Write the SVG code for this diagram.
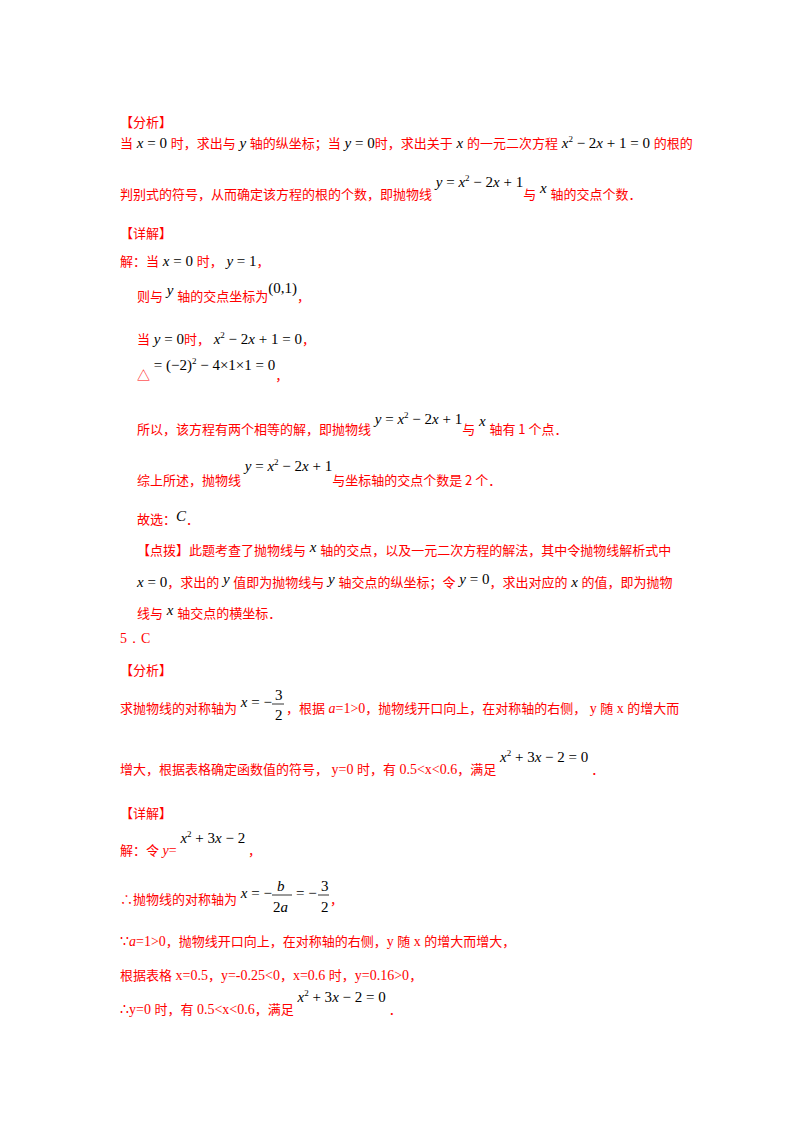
<svg xmlns="http://www.w3.org/2000/svg" width="800" height="1132" viewBox="0 0 800 1132">
<style>
text{font-family:"Noto Sans CJK SC","Liberation Serif",serif;font-size:13px;fill:#f00}
.m{font-family:"Liberation Serif",serif;font-size:15px;fill:#000;font-style:italic}
.n{font-family:"Liberation Serif",serif;font-size:15px;fill:#000;font-style:normal}
.s{font-size:9px}
.r{font-family:"Liberation Serif",serif;font-size:14px;fill:#f00}
</style>
<rect width="800" height="1132" fill="#fff"/>
<text x="120" y="127">【分析】</text>
<text x="120" y="148">当<tspan class="m"> x</tspan><tspan class="n"> = 0 </tspan>时，求出与<tspan class="m"> y </tspan>轴的纵坐标；当<tspan class="m"> y</tspan><tspan class="n"> = 0</tspan>时，求出关于<tspan class="m"> x </tspan>的一元二次方程<tspan class="m"> x</tspan><tspan class="n s" dy="-6">2</tspan><tspan class="n" dy="6"> − 2</tspan><tspan class="m">x</tspan><tspan class="n"> + 1 = 0 </tspan>的根的</text>
<text x="120" y="199">判别式的符号，从而确定该方程的根的个数，即抛物线<tspan class="m" dy="-12"> y</tspan><tspan class="n"> = </tspan><tspan class="m">x</tspan><tspan class="n s" dy="-6">2</tspan><tspan class="n" dy="6"> − 2</tspan><tspan class="m">x</tspan><tspan class="n"> + 1</tspan><tspan dy="12">与</tspan><tspan class="m" dy="-6"> x </tspan><tspan dy="6">轴的交点个数．</tspan></text>
<text x="120" y="238">【详解】</text>
<text x="120" y="266">解：当<tspan class="m"> x</tspan><tspan class="n"> = 0 </tspan>时，<tspan class="m"> y</tspan><tspan class="n"> = 1</tspan>，</text>
<text x="137" y="301">则与<tspan class="m" dy="-6"> y </tspan><tspan dy="6">轴的交点坐标为</tspan><tspan class="n" dy="-8">(0,1)</tspan><tspan dy="8">，</tspan></text>
<text x="137" y="344">当<tspan class="m"> y</tspan><tspan class="n"> = 0</tspan>时，<tspan class="m"> x</tspan><tspan class="n s" dy="-6">2</tspan><tspan class="n" dy="6"> − 2</tspan><tspan class="m">x</tspan><tspan class="n"> + 1 = 0</tspan>，</text>
<text x="137" y="380">△<tspan class="n" dy="-10"> = (−2)</tspan><tspan class="n s" dy="-6">2</tspan><tspan class="n" dy="6"> − 4×1×1 = 0</tspan><tspan dy="10">，</tspan></text>
<text x="137" y="434">所以，该方程有两个相等的解，即抛物线<tspan class="m" dy="-10"> y</tspan><tspan class="n"> = </tspan><tspan class="m">x</tspan><tspan class="n s" dy="-6">2</tspan><tspan class="n" dy="6"> − 2</tspan><tspan class="m">x</tspan><tspan class="n"> + 1</tspan><tspan dy="10">与</tspan><tspan class="m" dy="-8"> x </tspan><tspan dy="8">轴有 1 个点．</tspan></text>
<text x="137" y="485">综上所述，抛物线<tspan class="m" dy="-14"> y</tspan><tspan class="n"> = </tspan><tspan class="m">x</tspan><tspan class="n s" dy="-6">2</tspan><tspan class="n" dy="6"> − 2</tspan><tspan class="m">x</tspan><tspan class="n"> + 1</tspan><tspan dy="14">与坐标轴的交点个数是 2 个．</tspan></text>
<text x="137" y="524">故选：<tspan class="m" dy="-3">C</tspan><tspan dy="3">．</tspan></text>
<text x="137" y="555">【点拨】此题考查了抛物线与<tspan class="m" dy="-3"> x </tspan><tspan dy="3">轴的交点，以及一元二次方程的解法，其中令抛物线解析式中</tspan></text>
<text x="137" y="587"><tspan class="m">x</tspan><tspan class="n"> = 0</tspan>，求出的<tspan class="m" dy="-3"> y </tspan><tspan dy="3">值即为抛物线与</tspan><tspan class="m" dy="-3"> y </tspan><tspan dy="3">轴交点的纵坐标；令</tspan><tspan class="m" dy="-3"> y</tspan><tspan class="n"> = 0</tspan><tspan dy="3">，求出对应的</tspan><tspan class="m"> x </tspan>的值，即为抛物</text>
<text x="137" y="618">线与<tspan class="m" dy="-3"> x </tspan><tspan dy="3">轴交点的横坐标．</tspan></text>
<text x="120" y="643" class="r">5．C</text>
<text x="120" y="675">【分析】</text>
<text x="120" y="713">求抛物线的对称轴为<tspan class="m" dy="-6"> x</tspan><tspan class="n"> = −</tspan></text>
<text x="275" y="700" class="n" font-size="14">3</text>
<line x1="272" y1="704" x2="284" y2="704" stroke="#000" stroke-width="0.8"/>
<text x="275" y="720" class="n" font-size="14">2</text>
<text x="286" y="713">，根据<tspan class="r" font-style="italic"> a</tspan><tspan class="r">=1&gt;0</tspan>，抛物线开口向上，在对称轴的右侧，<tspan class="r"> y </tspan>随<tspan class="r"> x </tspan>的增大而</text>
<text x="120" y="774">增大，根据表格确定函数值的符号，<tspan class="r">  y=0 </tspan>时，有<tspan class="r"> 0.5&lt;x&lt;0.6</tspan>，满足<tspan class="m" dy="-12"> x</tspan><tspan class="n s" dy="-6">2</tspan><tspan class="n" dy="6"> + 3</tspan><tspan class="m">x</tspan><tspan class="n"> − 2 = 0</tspan><tspan dy="12">  ．</tspan></text>
<text x="120" y="818">【详解】</text>
<text x="120" y="855">解：令<tspan class="r" font-style="italic"> y</tspan><tspan class="r">=</tspan><tspan class="m" dy="-12"> x</tspan><tspan class="n s" dy="-6">2</tspan><tspan class="n" dy="6"> + 3</tspan><tspan class="m">x</tspan><tspan class="n"> − 2</tspan><tspan dy="12">   ，</tspan></text>
<text x="120" y="904">∴抛物线的对称轴为<tspan class="m" dy="-6"> x</tspan><tspan class="n"> = −</tspan></text>
<text x="277" y="891" class="m" font-size="14">b</text>
<line x1="272" y1="895" x2="292" y2="895" stroke="#000" stroke-width="0.8"/>
<text x="273" y="912" class="n" font-size="14">2<tspan font-style="italic">a</tspan></text>
<text x="296" y="898" class="n">= −</text>
<text x="321" y="891" class="n" font-size="14">3</text>
<line x1="318" y1="895" x2="329" y2="895" stroke="#000" stroke-width="0.8"/>
<text x="321" y="912" class="n" font-size="14">2</text>
<text x="330" y="904">，</text>
<text x="120" y="946"><tspan class="r">∵</tspan><tspan class="r" font-style="italic">a</tspan><tspan class="r">=1&gt;0</tspan>，抛物线开口向上，在对称轴的右侧，<tspan class="r">y </tspan>随<tspan class="r"> x </tspan>的增大而增大，</text>
<text x="120" y="980">根据表格<tspan class="r"> x=0.5</tspan>，<tspan class="r">y=-0.25&lt;0</tspan>，<tspan class="r">x=0.6 </tspan>时，<tspan class="r">y=0.16&gt;0</tspan>，</text>
<text x="120" y="1014"><tspan class="r">∴y=0 </tspan>时，有<tspan class="r"> 0.5&lt;x&lt;0.6</tspan>，满足<tspan class="m" dy="-12"> x</tspan><tspan class="n s" dy="-6">2</tspan><tspan class="n" dy="6"> + 3</tspan><tspan class="m">x</tspan><tspan class="n"> − 2 = 0</tspan><tspan dy="12">   ．</tspan></text>
</svg>
